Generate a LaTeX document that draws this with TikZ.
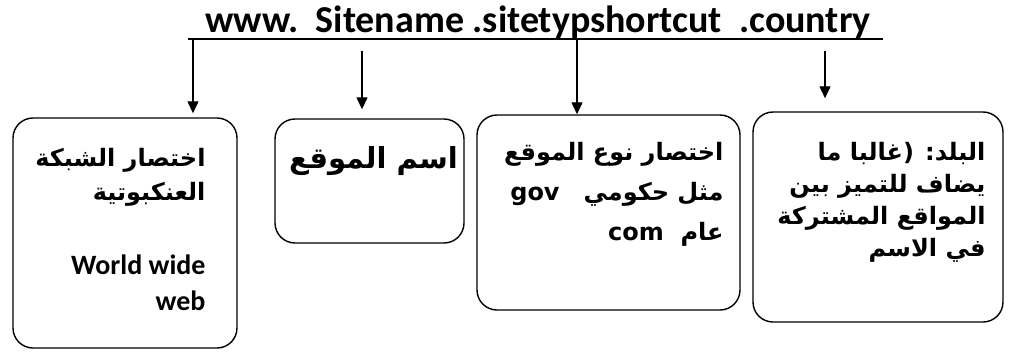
\documentclass[tikz,border=0pt]{standalone}
\usepackage{fontspec}
\setmainfont{Carlito}
\newfontfamily\arabicfont[Script=Arabic]{DejaVu Sans}
\TeXXeTstate=1
\usetikzlibrary{arrows.meta, calc, positioning}
\definecolor{inkblack}{gray}{0.0}
\newcommand{\artxt}[1]{{\arabicfont\bfseries\beginR #1\endR}}
\newcommand{\lat}[1]{\beginL{\fontsize{24}{34}\selectfont\textbf{#1}}\endL{}}
\tikzset{
  box/.style={draw=inkblack, line width=1.4pt, rounded corners=20pt, inner sep=0pt},
  link/.style={draw=inkblack, line width=1.3pt, -{Triangle[length=12pt, width=11pt]}},
  boxtext/.style={anchor=north east, align=right, inner sep=0pt,
                  font=\fontsize{24}{36}\selectfont\bfseries}
}

\begin{document}
\begin{tikzpicture}[x=1pt, y=-1pt]
    \useasboundingbox (0,0) rectangle (1009,351);
    % the address and its underline
    \node[font=\fontsize{38}{42}\selectfont\bfseries, inner sep=0pt] (url) at (538,22)
      {www.\ \ Sitename .sitetypshortcut\ \ .country};
    \coordinate (ul) at (188,39);
    \coordinate (ur) at (883,39);
    \draw[inkblack, line width=2.4pt] (ul) -- (ur);
    % the four boxes
    \node[box, minimum width=224pt, minimum height=230pt] (web)  at (125,233) {};
    \node[box, minimum width=189pt, minimum height=124pt] (name) at (369.5,181) {};
    \node[box, minimum width=263pt, minimum height=195pt] (type) at (608.5,212.5) {};
    \node[box, minimum width=250pt, minimum height=210pt] (land) at (878,217) {};
    % arrows from the address to the boxes
    \coordinate (s1) at (193,39);
    \coordinate (s2) at (362,51);
    \coordinate (s3) at (577,39);
    \coordinate (s4) at (825,51);
    \foreach \s/\b/\gap in {s1/web/4pt, s2/name/9pt, s3/type/0pt, s4/land/13pt}
      {\draw[link, shorten >=\gap] (\s) -- (\s |- \b.north);}
    % texts
    \node[boxtext] (webtxt) at ([xshift=-32pt, yshift=-31pt]web.north east)
      {\artxt{اختصار الشبكة}\\[-2pt] \artxt{العنكبوتية}\\[38pt]
       \fontsize{28}{36}\selectfont World wide\\ \fontsize{28}{36}\selectfont web};
    \node[font=\fontsize{29}{32}\selectfont\bfseries, inner sep=0pt] (nametxt)
      at ([xshift=4pt, yshift=-43pt]name.north) {\artxt{اسم الموقع}};
    \node[boxtext, font=\fontsize{24}{40}\selectfont\bfseries] (typetxt)
      at ([xshift=-17pt, yshift=-28pt]type.north east)
      {\artxt{اختصار نوع الموقع}\\ \artxt{مثل حكومي\quad \lat{gov}}\\
       \artxt{عام\ \ \lat{com}}};
    \node[boxtext, font=\fontsize{24}{32}\selectfont\bfseries] (landtxt)
      at ([xshift=-18pt, yshift=-31pt]land.north east)
      {\artxt{البلد: (غالبا ما}\\ \artxt{يضاف للتميز بين}\\
       \artxt{المواقع المشتركة}\\ \artxt{في الاسم}};
\end{tikzpicture}
\end{document}
